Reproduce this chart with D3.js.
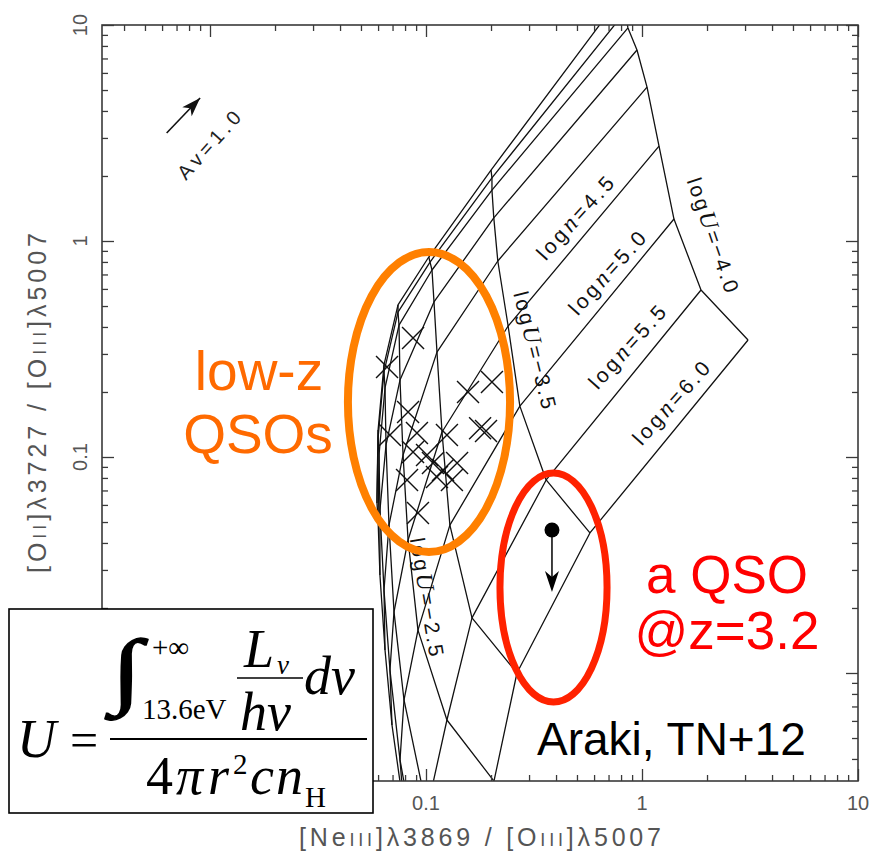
<!DOCTYPE html>
<html>
<head>
<meta charset="utf-8">
<script src="https://cdn.jsdelivr.net/npm/d3@7"></script>
<style>
  html, body { margin: 0; padding: 0; background: #fff; }
  svg { display: block; }
</style>
</head>
<body>
<svg id="chart" width="874" height="861"></svg>
<script>
// ---- photoionisation model grid: rows follow logU, columns follow log n ----
const gridLogU = [-4.0, -3.5, -3.0, -2.5, -2.0, -1.5, -1.0];
const gridLogN = [2.0, 2.5, 3.0, 3.5, 4.0, 4.5, 5.0, 5.5, 6.0];

// [NeIII]3869 / [OIII]5007
const gridNe3O3 = [
  [0.808, 0.834, 0.861, 0.948, 1.055, 1.199, 1.406, 1.876, 3.097],
  [0.200, 0.202, 0.202, 0.206, 0.215, 0.240, 0.272, 0.360, 0.574],
  [0.103, 0.1044, 0.1066, 0.1089, 0.1124, 0.1186, 0.129, 0.1633, 0.2637],
  [0.0742, 0.0742, 0.0750, 0.0758, 0.0783, 0.0826, 0.0918, 0.125, 0.2064],
  [0.0639, 0.0639, 0.0646, 0.0653, 0.0674, 0.0711, 0.0791, 0.1011, 0.178],
  [0.0600, 0.0600, 0.0606, 0.0612, 0.0639, 0.0681, 0.0758, 0.0918, 0.129],
  [0.0593, 0.0593, 0.0600, 0.0612, 0.0646, 0.0696, 0.0791, 0.0938, 0.129]
];

// [OII]3727 / [OIII]5007
const gridO2O3 = [
  [13.77, 11.48, 9.69, 7.66, 5.16, 2.75, 1.264, 0.593, 0.348],
  [2.13, 1.96, 1.72, 1.28, 0.808, 0.404, 0.172, 0.0783, 0.0445],
  [0.843, 0.799, 0.734, 0.522, 0.306, 0.1305, 0.0484, 0.0180, 0.0100],
  [0.506, 0.469, 0.408, 0.227, 0.1021, 0.0413, 0.0158, 0.00606, 0.00316],
  [0.267, 0.2476, 0.2087, 0.1137, 0.0484, 0.0192, 0.0075, 0.00232, 0.0011],
  [0.1334, 0.1225, 0.1021, 0.0568, 0.0242, 0.01033, 0.00396, 0.00136, 0.00058],
  [0.0667, 0.0612, 0.0511, 0.0284, 0.01277, 0.00574, 0.00232, 0.00089, 0.00038]
];

// low-redshift QSO sample
const lowzNe3O3 = [0.0660, 0.0871, 0.1565, 0.202, 0.178, 0.1896, 0.0826, 0.0681, 0.0908, 0.125,
                   0.0871, 0.1011, 0.1077, 0.1199, 0.1318, 0.1393, 0.0817, 0.1124, 0.0918];
const lowzO2O3  = [0.261, 0.356, 0.200, 0.2225, 0.136, 0.1318, 0.1616, 0.1264, 0.1292, 0.1264,
                   0.1055, 0.1021, 0.0938, 0.0871, 0.0783, 0.0938, 0.0783, 0.0808, 0.0551];

// QSO at z = 3.2 ([OII] upper limit)
const qsoNe3O3 = 0.383;
const qsoO2O3 = 0.0459;
const qsoO2O3Limit = 0.0237;

// reddening vector, Av = 1.0
const avFrom = [0.0063, 3.16];
const avTo = [0.0090, 4.59];

// axis extent and labelled ticks
const axisExtent = [Math.pow(10, -2.5), 10];
const majorTicks = [0.01, 0.1, 1, 10];
const labelledTicks = [0.1, 1, 10];
const labelledTickText = ["0.1", "1", "10"];

// curve labels
const nLabels = ["4.5", "5.0", "5.5", "6.0"];
const uLabels = ["4.0", "3.5", "2.5"];

// highlighted regions (data-space bounding boxes)
const lowzRegion = { x: [0.0435, 0.245], y: [0.0363, 0.889] };
const qsoRegion  = { x: [0.220, 0.689], y: [0.00734, 0.0843] };

// ---------------------------------------------------------------
const svg = d3.select("#chart");
const plot = { left: 102, right: 858, top: 25, bottom: 781 };

const x = d3.scaleLog().domain(axisExtent).range([plot.left, plot.right]);
const y = d3.scaleLog().domain(axisExtent).range([plot.bottom, plot.top]);

const sans = "'Liberation Sans', Arial, Helvetica, sans-serif";
const serif = "'Liberation Serif', 'Times New Roman', Times, serif";

svg.append("rect").attr("width", 874).attr("height", 861).attr("fill", "#fff");

svg.append("defs").append("clipPath").attr("id", "plotClip")
  .append("rect")
  .attr("x", plot.left).attr("y", plot.top)
  .attr("width", plot.right - plot.left).attr("height", plot.bottom - plot.top);

const inner = svg.append("g").attr("clip-path", "url(#plotClip)");

const line = d3.line().x(d => x(d[0])).y(d => y(d[1]));

// constant-U tracks
const uTracks = gridLogU.map((u, i) => gridLogN.map((n, j) => [gridNe3O3[i][j], gridO2O3[i][j]]));
// constant-n tracks
const nTracks = gridLogN.map((n, j) => gridLogU.map((u, i) => [gridNe3O3[i][j], gridO2O3[i][j]]));

inner.append("g")
  .selectAll("path")
  .data(uTracks.concat(nTracks))
  .join("path")
  .attr("d", line)
  .attr("fill", "none")
  .attr("stroke", "#111")
  .attr("stroke-width", 1.3)
  .attr("stroke-linejoin", "round");

// low-z sample: x-shaped markers
const timesSymbol = {
  draw(ctx, size) {
    const r = Math.sqrt(size) / 2;
    ctx.moveTo(-r, -r); ctx.lineTo(r, r);
    ctx.moveTo(-r, r); ctx.lineTo(r, -r);
  }
};
inner.append("g")
  .selectAll("path")
  .data(lowzNe3O3.map((v, i) => [v, lowzO2O3[i]]))
  .join("path")
  .attr("transform", d => `translate(${x(d[0])},${y(d[1])})`)
  .attr("d", d3.symbol().type(timesSymbol).size(22 * 22))
  .attr("fill", "none")
  .attr("stroke", "#111")
  .attr("stroke-width", 1.4);

// QSO at z=3.2 with upper-limit arrow
const qx = x(qsoNe3O3), qy = y(qsoO2O3), qLim = y(qsoO2O3Limit);
svg.append("line")
  .attr("x1", qx).attr("y1", qy).attr("x2", qx).attr("y2", qLim - 12)
  .attr("stroke", "#000").attr("stroke-width", 1.5);
svg.append("path")
  .attr("d", `M${qx},${qLim} L${qx - 7},${qLim - 21} L${qx},${qLim - 15} L${qx + 7},${qLim - 21} Z`)
  .attr("fill", "#000");
svg.append("circle").attr("cx", qx).attr("cy", qy).attr("r", 7.5).attr("fill", "#000");

// reddening vector
{
  const x0 = x(avFrom[0]), y0 = y(avFrom[1]), x1 = x(avTo[0]), y1 = y(avTo[1]);
  const ang = Math.atan2(y1 - y0, x1 - x0) * 180 / Math.PI;
  svg.append("line")
    .attr("x1", x0).attr("y1", y0).attr("x2", x1).attr("y2", y1)
    .attr("stroke", "#111").attr("stroke-width", 1.6);
  svg.append("path")
    .attr("transform", `translate(${x1},${y1}) rotate(${ang})`)
    .attr("d", "M0,0 L-19,-6.5 L-14,0 L-19,6.5 Z")
    .attr("fill", "#111");
  svg.append("text")
    .attr("transform", `translate(209,145) rotate(-48)`)
    .attr("text-anchor", "middle").attr("dy", "0.35em")
    .attr("font-family", sans).attr("font-size", 20).attr("fill", "#222")
    .attr("textLength", 84).attr("lengthAdjust", "spacing")
    .text("Av=1.0");
}

// curve labels
const nLabelPos = [[575, 218], [607, 273], [627, 347], [671, 403]];
const nLab = svg.append("g").selectAll("text").data(nLabels).join("text")
  .attr("transform", (d, i) => `translate(${nLabelPos[i][0]},${nLabelPos[i][1]}) rotate(-48)`)
  .attr("text-anchor", "middle").attr("dy", "0.35em")
  .attr("font-family", sans).attr("font-size", 21).attr("fill", "#111")
  .attr("textLength", 104).attr("lengthAdjust", "spacing");
nLab.append("tspan").text("log");
nLab.append("tspan").attr("font-style", "italic").attr("font-family", serif).attr("font-size", 24).text("n");
nLab.append("tspan").text(d => "=" + d);

const uLabelPos = [[713, 235, 71], [535, 350, 76], [427, 597, 80.5]];
const uLab = svg.append("g").selectAll("text").data(uLabels).join("text")
  .attr("transform", (d, i) => `translate(${uLabelPos[i][0]},${uLabelPos[i][1]}) rotate(${uLabelPos[i][2]})`)
  .attr("text-anchor", "middle").attr("dy", "0.35em")
  .attr("font-family", sans).attr("font-size", 21).attr("fill", "#111")
  .attr("textLength", 120).attr("lengthAdjust", "spacing");
uLab.append("tspan").text("log");
uLab.append("tspan").attr("font-style", "italic").attr("font-family", serif).attr("font-size", 24).text("U");
uLab.append("tspan").text(d => "=\u2212" + d);

// ---- axes: frame with inward ticks on all four sides ----
const minorTicks = x.ticks().filter(v => !majorTicks.some(m => Math.abs(m - v) / m < 1e-6));
const axisColor = "#3a3a3a";

function tickAxis(gen, values, size, tx, ty) {
  const g = svg.append("g").attr("transform", `translate(${tx},${ty})`)
    .call(gen.tickValues(values).tickSize(-size).tickSizeOuter(0).tickFormat(""));
  g.select(".domain").remove();
  g.selectAll("line").attr("stroke", axisColor).attr("stroke-width", 1.3);
}
for (const [vals, len] of [[majorTicks, 12], [minorTicks, 6]]) {
  tickAxis(d3.axisBottom(x), vals, len, 0, plot.bottom);
  tickAxis(d3.axisTop(x), vals, len, 0, plot.top);
  tickAxis(d3.axisLeft(y), vals, len, plot.left, 0);
  tickAxis(d3.axisRight(y), vals, len, plot.right, 0);
}
svg.append("rect")
  .attr("x", plot.left).attr("y", plot.top)
  .attr("width", plot.right - plot.left).attr("height", plot.bottom - plot.top)
  .attr("fill", "none").attr("stroke", axisColor).attr("stroke-width", 1.6);

// tick labels
svg.append("g").selectAll("text").data(labelledTicks).join("text")
  .attr("x", d => x(d)).attr("y", 810)
  .attr("text-anchor", "middle")
  .attr("font-family", sans).attr("font-size", 20).attr("fill", "#555")
  .text((d, i) => labelledTickText[i]);
svg.append("g").selectAll("text").data(labelledTicks).join("text")
  .attr("transform", d => `translate(80,${y(d)}) rotate(-90)`)
  .attr("text-anchor", "middle").attr("dy", "0.36em")
  .attr("font-family", sans).attr("font-size", 20).attr("fill", "#555")
  .text((d, i) => labelledTickText[i]);

// axis titles
function ionTitle(sel, parts) {
  parts.forEach(p => {
    const t = sel.append("tspan").text(p[0]);
    if (p[1]) t.attr("font-size", "0.72em");
  });
}
const xt = svg.append("text")
  .attr("x", (plot.left + plot.right) / 2).attr("y", 846)
  .attr("text-anchor", "middle")
  .attr("font-family", sans).attr("font-size", 25).attr("fill", "#555")
  .attr("textLength", 362).attr("lengthAdjust", "spacing");
ionTitle(xt, [["[Ne"], ["III", 1], ["]\u03bb3869 / [O"], ["III", 1], ["]\u03bb5007"]]);

const yt = svg.append("text")
  .attr("transform", `translate(46,${(plot.top + plot.bottom) / 2}) rotate(-90)`)
  .attr("text-anchor", "middle")
  .attr("font-family", sans).attr("font-size", 25).attr("fill", "#555")
  .attr("textLength", 340).attr("lengthAdjust", "spacing");
ionTitle(yt, [["[O"], ["II", 1], ["]\u03bb3727 / [O"], ["III", 1], ["]\u03bb5007"]]);

// ---- highlighted regions ----
function regionEllipse(r, color, width) {
  const x0 = x(r.x[0]), x1 = x(r.x[1]), y0 = y(r.y[1]), y1 = y(r.y[0]);
  svg.append("ellipse")
    .attr("cx", (x0 + x1) / 2).attr("cy", (y0 + y1) / 2)
    .attr("rx", (x1 - x0) / 2).attr("ry", (y1 - y0) / 2)
    .attr("fill", "none").attr("stroke", color).attr("stroke-width", width);
}
regionEllipse(lowzRegion, "#ff8000", 8);
regionEllipse(qsoRegion, "#ff2200", 7);

const note = svg.append("g").attr("font-family", sans).attr("text-anchor", "middle");
note.append("text").attr("x", 259).attr("y", 390).attr("font-size", 55).attr("fill", "#ff6a00").text("low-z");
note.append("text").attr("x", 258).attr("y", 453).attr("font-size", 55).attr("fill", "#ff6a00").text("QSOs");
note.append("text").attr("x", 727).attr("y", 593).attr("font-size", 53).attr("fill", "#ff0000").text("a QSO");
note.append("text").attr("x", 727).attr("y", 649).attr("font-size", 53).attr("fill", "#ff0000").text("@z=3.2");
svg.append("text").attr("x", 537).attr("y", 755)
  .attr("font-family", sans).attr("font-size", 46).attr("fill", "#000")
  .text("Araki, TN+12");

// ---- ionisation parameter definition ----
const f = svg.append("g").attr("font-family", serif).attr("fill", "#000");
f.append("rect").attr("x", 9).attr("y", 609).attr("width", 364).attr("height", 204)
  .attr("fill", "#fff").attr("stroke", "#000").attr("stroke-width", 1.6);
f.append("text").attr("x", 17).attr("y", 757).attr("font-size", 54).attr("font-style", "italic").text("U");
f.append("text").attr("x", 70).attr("y", 757).attr("font-size", 50).text("=");
f.append("line").attr("x1", 110).attr("x2", 367).attr("y1", 739).attr("y2", 739)
  .attr("stroke", "#000").attr("stroke-width", 2);
// integral with limits
f.append("text").attr("transform", "translate(111,698) scale(1.35,1)")
  .attr("font-size", 84).attr("stroke", "#000").attr("stroke-width", 1.4).text("\u222b");
f.append("text").attr("x", 152).attr("y", 657).attr("font-size", 29).text("+\u221e");
f.append("text").attr("x", 142).attr("y", 719).attr("font-size", 29).text("13.6eV");
// L_nu / h nu
f.append("text").attr("x", 244).attr("y", 667).attr("font-size", 54).attr("font-style", "italic").text("L");
f.append("text").attr("x", 277).attr("y", 674).attr("font-size", 27).attr("font-style", "italic").text("\u03bd");
f.append("line").attr("x1", 237).attr("x2", 303).attr("y1", 678).attr("y2", 678)
  .attr("stroke", "#000").attr("stroke-width", 1.5);
f.append("text").attr("x", 240).attr("y", 730).attr("font-size", 54).attr("font-style", "italic").text("h\u03bd");
f.append("text").attr("x", 304).attr("y", 694).attr("font-size", 54).attr("font-style", "italic").text("d\u03bd");
// 4 pi r^2 c n_H
f.append("text").attr("x", 146).attr("y", 794).attr("font-size", 54).text("4");
f.append("text").attr("x", 176).attr("y", 794).attr("font-size", 54).attr("font-style", "italic").text("\u03c0");
f.append("text").attr("x", 208).attr("y", 794).attr("font-size", 54).attr("font-style", "italic").text("r");
f.append("text").attr("x", 233).attr("y", 774).attr("font-size", 29).text("2");
f.append("text").attr("x", 250).attr("y", 794).attr("font-size", 54).attr("font-style", "italic").text("c");
f.append("text").attr("x", 276).attr("y", 794).attr("font-size", 54).attr("font-style", "italic").text("n");
f.append("text").attr("x", 305).attr("y", 807).attr("font-size", 29).text("H");
</script>
</body>
</html>
